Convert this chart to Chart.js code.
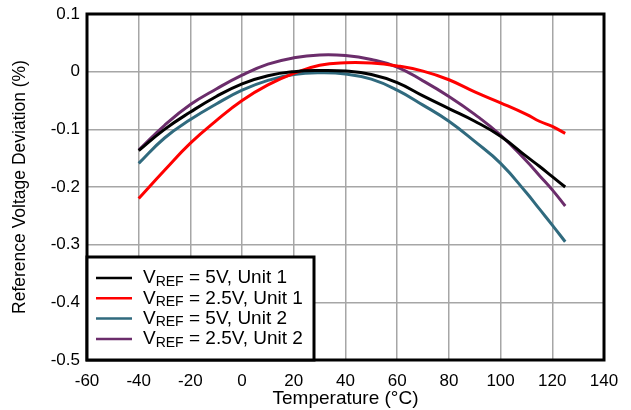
<!DOCTYPE html>
<html>
<head>
<meta charset="utf-8">
<script src="https://cdn.jsdelivr.net/npm/chart.js@4"></script>
<style>
  html, body { margin: 0; padding: 0; background: #fff; }
  #wrap { width: 631px; height: 410px; }
</style>
</head>
<body>
<div id="wrap"><canvas id="vrefChart" width="631" height="410"></canvas></div>
<script>
// Reference deviation vs temperature, two units at two reference voltages
const temperature = [-40, -30, -20, -10, 0, 10, 20, 30, 40, 50, 60, 70, 80, 90, 100, 110, 115, 120, 125];
const vref5Unit1  = [-0.137, -0.100, -0.070, -0.043, -0.021, -0.007, 0.000, 0.002, 0.001, -0.005, -0.019, -0.042, -0.064, -0.086, -0.112, -0.147, -0.164, -0.182, -0.200];
const vref25Unit1 = [-0.220, -0.171, -0.124, -0.085, -0.050, -0.023, -0.003, 0.011, 0.0155, 0.015, 0.010, 0.001, -0.014, -0.035, -0.054, -0.074, -0.086, -0.095, -0.107];
const vref5Unit2  = [-0.159, -0.115, -0.083, -0.056, -0.032, -0.015, -0.005, -0.002, -0.004, -0.013, -0.032, -0.058, -0.086, -0.121, -0.159, -0.210, -0.238, -0.266, -0.295];
const vref25Unit2 = [-0.136, -0.093, -0.057, -0.030, -0.006, 0.013, 0.024, 0.029, 0.028, 0.021, 0.008, -0.016, -0.043, -0.074, -0.110, -0.155, -0.180, -0.205, -0.233];

const seriesNames = [
  ['V', 'REF', ' = 5V, Unit 1'],
  ['V', 'REF', ' = 2.5V, Unit 1'],
  ['V', 'REF', ' = 5V, Unit 2'],
  ['V', 'REF', ' = 2.5V, Unit 2'],
];
const seriesColors = ['#000000', '#ff0000', '#306a7e', '#6b2d6b'];

const FONT = 'Arial, "Liberation Sans", sans-serif';

function toPoints(vals) {
  return temperature.map((t, i) => ({ x: t, y: vals[i] }));
}

// frame around the plot area plus the boxed legend in the lower left
const frameAndLegend = {
  id: 'frameAndLegend',
  afterDraw(chart) {
    const { ctx, chartArea: a } = chart;
    ctx.save();
    ctx.strokeStyle = '#000';
    ctx.lineWidth = 3;
    ctx.strokeRect(a.left, a.top, a.right - a.left, a.bottom - a.top);

    // legend box
    const bx = a.left, by = 257, bw = 227, bh = a.bottom - by;
    ctx.fillStyle = '#fff';
    ctx.fillRect(bx, by, bw, bh);
    ctx.strokeRect(bx, by, bw, bh);

    chart.data.datasets.forEach((ds, i) => {
      const y = 278 + i * 20.3;
      ctx.strokeStyle = ds.borderColor;
      ctx.lineWidth = 2.5;
      ctx.beginPath();
      ctx.moveTo(96, y);
      ctx.lineTo(132, y);
      ctx.stroke();

      const [main, sub, rest] = seriesNames[i];
      ctx.fillStyle = '#000';
      ctx.textBaseline = 'middle';
      let x = 143;
      ctx.font = '19px ' + FONT;
      ctx.fillText(main, x, y);
      x += ctx.measureText(main).width;
      ctx.font = '14px ' + FONT;
      ctx.fillText(sub, x, y + 4);
      x += ctx.measureText(sub).width;
      ctx.font = '19px ' + FONT;
      ctx.fillText(rest, x, y);
    });
    ctx.restore();
  }
};

new Chart(document.getElementById('vrefChart'), {
  type: 'line',
  data: {
    datasets: [vref5Unit1, vref25Unit1, vref5Unit2, vref25Unit2].map((vals, i) => ({
      label: seriesNames[i].join(''),
      data: toPoints(vals),
      borderColor: seriesColors[i],
      borderWidth: 3,
      pointRadius: 0,
      tension: 0.45,
      fill: false,
    })),
  },
  options: {
    responsive: false,
    animation: false,
    layout: { padding: { top: 14, right: 27, left: 0, bottom: 0 } },
    plugins: {
      legend: { display: false },
      tooltip: { enabled: false },
    },
    scales: {
      x: {
        type: 'linear',
        min: -60,
        max: 140,
        ticks: { stepSize: 20, color: '#000', font: { family: FONT, size: 17 }, padding: 11 },
        grid: { color: '#a6a6a6', lineWidth: 1.5, drawTicks: false },
        border: { display: false },
        title: { display: true, text: 'Temperature (°C)', color: '#000', font: { family: FONT, size: 19 }, padding: { top: 0, bottom: 0 } },
        afterFit(scale) { scale.height = 50; },
      },
      y: {
        min: -0.5,
        max: 0.1,
        ticks: {
          stepSize: 0.1,
          color: '#000',
          font: { family: FONT, size: 17 },
          padding: 7,
          callback: v => Number(v.toFixed(1)).toString(),
        },
        grid: { color: '#a6a6a6', lineWidth: 1.5, drawTicks: false },
        border: { display: false },
        title: { display: true, text: 'Reference Voltage Deviation (%)', color: '#000', font: { family: FONT, size: 17.5 }, padding: { top: 10, bottom: 0 } },
        afterFit(scale) {
          scale.width = 87;
          scale.paddingTop = 0;
          scale.paddingBottom = 0;
        },
      },
    },
  },
  plugins: [frameAndLegend],
});
</script>
</body>
</html>
